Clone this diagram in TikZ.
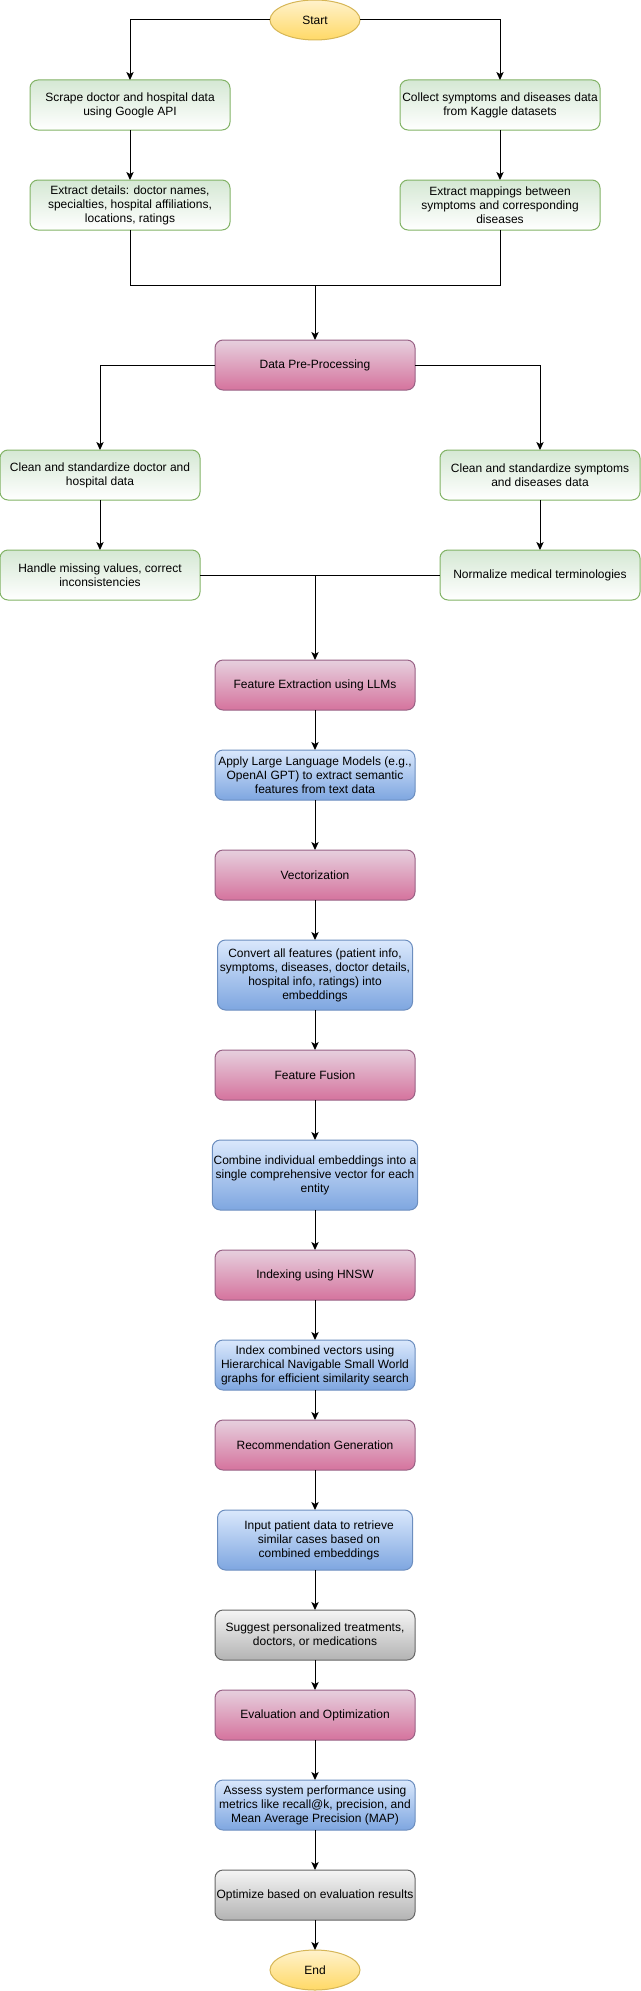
\documentclass[tikz,border=0pt]{standalone}
\usepackage{fontspec}
\setmainfont{Liberation Sans}
\usetikzlibrary{
  arrows.meta,
  positioning,
  shapes.geometric
}
\definecolor{greenfill}{HTML}{D5E8D4}
\definecolor{greenline}{HTML}{82B366}
\definecolor{pinkfill}{HTML}{E6D0DE}
\definecolor{pinkshade}{HTML}{D5739D}
\definecolor{pinkline}{HTML}{996185}
\definecolor{bluefill}{HTML}{DAE8FC}
\definecolor{blueshade}{HTML}{7EA6E0}
\definecolor{blueline}{HTML}{6C8EBF}
\definecolor{grayfill}{HTML}{F5F5F5}
\definecolor{grayshade}{HTML}{B3B3B3}
\definecolor{grayline}{HTML}{666666}
\definecolor{yellowfill}{HTML}{FFF2CC}
\definecolor{yellowshade}{HTML}{FFD966}
\definecolor{yellowline}{HTML}{D6B656}
\tikzset{
  block/.style={
    draw,
    rounded corners=6pt,
    line width=0.75pt,
    minimum height=37.5pt,
    minimum width=150pt,
    inner sep=1pt,
    outer sep=0pt,
    align=center,
    font=\fontsize{9}{10.5}\selectfont
  },
  source/.style={block, draw=greenline, top color=greenfill, bottom color=white},
  stage/.style={block, draw=pinkline, top color=pinkfill, bottom color=pinkshade},
  detail/.style={block, draw=blueline, top color=bluefill, bottom color=blueshade},
  result/.style={block, draw=grayline, top color=grayfill, bottom color=grayshade},
  terminal/.style={
    ellipse,
    draw=yellowline,
    top color=yellowfill,
    bottom color=yellowshade,
    line width=0.75pt,
    minimum width=67.5pt,
    minimum height=30pt,
    inner sep=0pt,
    outer sep=0pt,
    font=\fontsize{9}{10.5}\selectfont
  },
  arrow/.style={-{Stealth[length=6pt,width=5.5pt,inset=1.5pt]}, line width=0.75pt},
  joint/.style={line width=0.75pt}
}

\begin{document}
\begin{tikzpicture}[x=0.75pt, y=-0.75pt]
  \useasboundingbox (0,0) rectangle (641,1991);

  \node[terminal] (start) at (315,20) {Start};

  \node[source] (scrape) at (130,105)
    {Scrape doctor and hospital data\\using Google API};
  \node[source, below=37.5pt of scrape] (details)
    {Extract details: doctor names,\\specialties, hospital affiliations,\\locations, ratings};
  \node[source] (collect) at (500,105)
    {Collect symptoms and diseases data\\from Kaggle datasets};
  \node[source, below=37.5pt of collect] (mappings)
    {Extract mappings between\\symptoms and corresponding\\diseases};
  \coordinate (merge) at (315,285);

  \node[stage] (prep) at (315,365) {Data Pre-Processing};

  \node[source] (cleandoc) at (100,475)
    {Clean and standardize doctor and\\hospital data};
  \node[source, below=37.5pt of cleandoc] (missing)
    {Handle missing values, correct\\inconsistencies};
  \node[source] (cleansym) at (540,475)
    {Clean and standardize symptoms\\and diseases data};
  \node[source, below=37.5pt of cleansym] (normalize)
    {Normalize medical terminologies};

  \node[stage] (features) at (315,685) {Feature Extraction using LLMs};
  \coordinate (join) at (features |- missing);
  \node[detail, below=30pt of features] (llm)
    {Apply Large Language Models (e.g.,\\OpenAI GPT) to extract semantic\\features from text data};
  \node[stage, below=37.5pt of llm] (vector) {Vectorization};
  \node[detail, below=30pt of vector, minimum width=146.25pt, minimum height=52.5pt] (embed)
    {Convert all features (patient info,\\symptoms, diseases, doctor details,\\hospital info, ratings) into\\embeddings};
  \node[stage, below=30pt of embed] (fusion) {Feature Fusion};
  \node[detail, below=30pt of fusion, minimum width=153.75pt, minimum height=52.5pt] (combine)
    {Combine individual embeddings into a\\single comprehensive vector for each\\entity};
  \node[stage, below=30pt of combine] (hnsw) {Indexing using HNSW};
  \node[detail, below=30pt of hnsw] (index)
    {Index combined vectors using\\Hierarchical Navigable Small World\\graphs for efficient similarity search};
  \node[stage, below=22.5pt of index] (recommend) {Recommendation Generation};
  \node[detail, below=30pt of recommend, minimum width=146.25pt, minimum height=45pt] (query)
    {\hspace*{6pt}Input patient data to retrieve\\\hspace*{6pt}similar cases based on\\\hspace*{6pt}combined embeddings};
  \node[result, below=30pt of query] (suggest)
    {Suggest personalized treatments,\\doctors, or medications};
  \node[stage, below=22.5pt of suggest] (evaluate) {Evaluation and Optimization};
  \node[detail, below=30pt of evaluate] (assess)
    {Assess system performance using\\metrics like recall@k, precision, and\\Mean Average Precision (MAP)};
  \node[result, below=30pt of assess] (optimize)
    {Optimize based on evaluation results};
  \node[terminal, below=22.5pt of optimize] (end) {End};

  \draw[arrow] (start) -| (scrape);
  \draw[arrow] (start) -| (collect);
  \draw[arrow] (scrape) -- (details);
  \draw[arrow] (collect) -- (mappings);
  \draw[joint] (details) |- (merge);
  \draw[joint] (mappings) |- (merge);
  \draw[arrow] (merge) -- (prep);

  \draw[arrow] (prep) -| (cleandoc);
  \draw[arrow] (prep) -| (cleansym);
  \draw[arrow] (cleandoc) -- (missing);
  \draw[arrow] (cleansym) -- (normalize);
  \draw[joint] (missing) -- (normalize);
  \draw[arrow] (join) -- (features);

  \draw[arrow] (features) -- (llm);
  \draw[arrow] (llm) -- (vector);
  \draw[arrow] (vector) -- (embed);
  \draw[arrow] (embed) -- (fusion);
  \draw[arrow] (fusion) -- (combine);
  \draw[arrow] (combine) -- (hnsw);
  \draw[arrow] (hnsw) -- (index);
  \draw[arrow] (index) -- (recommend);
  \draw[arrow] (recommend) -- (query);
  \draw[arrow] (query) -- (suggest);
  \draw[arrow] (suggest) -- (evaluate);
  \draw[arrow] (evaluate) -- (assess);
  \draw[arrow] (assess) -- (optimize);
  \draw[arrow] (optimize) -- (end);
\end{tikzpicture}
\end{document}
